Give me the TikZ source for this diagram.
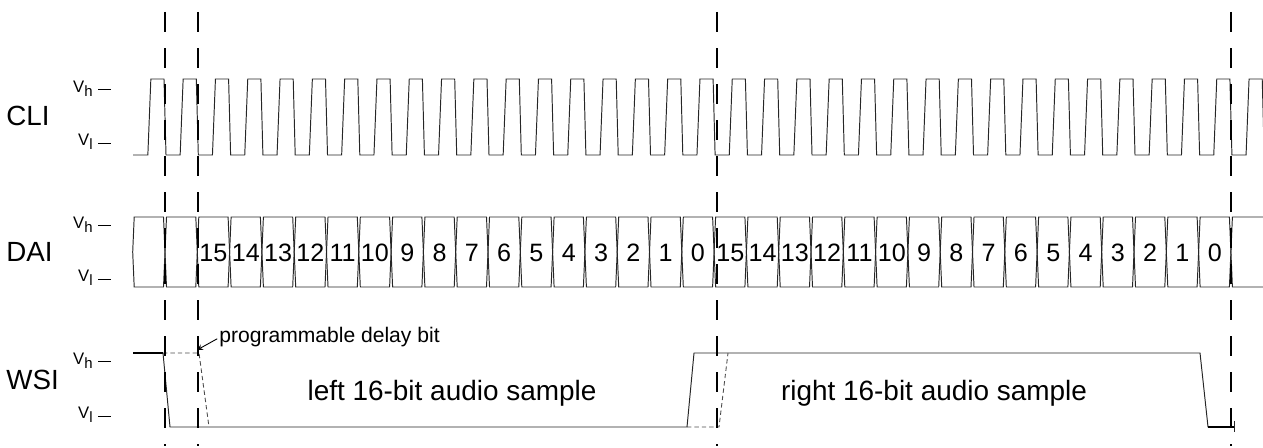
\documentclass[tikz,border=0pt]{standalone}
\usepackage{fontspec}
\setmainfont{Liberation Sans}
\usetikzlibrary{arrows,positioning}

\begin{document}
\begin{tikzpicture}[
    x=0.02cm, y=-0.02cm,
    signal/.style={draw=black!85, line width=0.55pt},
    strong_signal/.style={draw=black, line width=1.1pt},
    delay_line/.style={draw=black!70, line width=0.5pt, dash pattern=on 2.5pt off 1.7pt},
    marker_line/.style={draw=black, line width=1.1pt, dash pattern=on 11.4pt off 9.1pt},
    sig_label/.style={anchor=west, inner sep=0pt, font=\fontsize{15.8}{18}\selectfont},
    level_label/.style={anchor=base east, inner sep=0pt, font=\fontsize{9.5}{11}\selectfont},
    level_tick/.style={draw=black, line width=0.55pt},
    bit_num/.style={inner sep=0pt, font=\fontsize{14.3}{16}\selectfont},
    sample_text/.style={inner sep=0pt, font=\fontsize{15.9}{18}\selectfont},
    note/.style={anchor=west, inner sep=0pt, font=\fontsize{12}{14}\selectfont},
    arrow/.style={line width=0.5pt, ->, >=stealth}
]
\useasboundingbox (0,0) rectangle (1263,448);
\def\T{32.3}

% Signal names
\node[sig_label] (cli) at (6,116) {CLI};
\node[sig_label] (dai) at (6,252) {DAI};
\node[sig_label] (wsi) at (6,380) {WSI};

% Voltage levels
\foreach \name/\yh/\yl in {cli/89/143, dai/225/279, wsi/361/416} {
  \node[level_label] (\name_vh) at (93,\yh+4) {V\raisebox{-2pt}{\fontsize{8.5}{10}\selectfont h}};
  \node[level_label] (\name_vl) at (93,\yl+3) {V\raisebox{-2pt}{\fontsize{8.5}{10}\selectfont l}};
  \draw[level_tick] (98,\yh) -- (111,\yh);
  \draw[level_tick] (98,\yl) -- (111,\yl);
}

% CLI clock
\draw[signal] (133,155) foreach \k in {-1,...,33} {
  -- ({165+\k*\T+\T/2-1},155) -- ({165+\k*\T+\T/2+2},79)
  -- ({165+(\k+1)*\T-1},79) -- ({165+(\k+1)*\T+1},155) };

% DAI data cells
\foreach \k in {-1,...,32} {
  \draw[signal] ({165+\k*\T+1.5},217) -- ({165+(\k+1)*\T-1.5},217)
    -- ({165+(\k+1)*\T},252) -- ({165+(\k+1)*\T-1.5},287)
    -- ({165+\k*\T+1.5},287) -- ({165+\k*\T},252) -- cycle;
}
\draw[signal] (1263,217) -- ({165+33*\T+1.5},217) -- ({165+33*\T},252)
  -- ({165+33*\T+1.5},287) -- (1263,287);
\foreach \k in {1,...,32} {
  \pgfmathtruncatemacro\bitval{15-mod(\k-1,16)}
  \node[bit_num] (bit\k) at ({165+(\k+0.5)*\T},253) {\bitval};
}

% WSI word select
\draw[strong_signal] (133,353) -- (163,353);
\draw[signal] (163,353) -- (170,427) -- (687,427) -- (694,353)
  -- (1200,353) -- (1208,427) -- (1212,427);
\draw[strong_signal] (1208,427) -- (1235,427);
\draw[signal] (1234,421) -- (1234,432);
\draw[delay_line] (163,353) -- (199,353) -- (209,427);
\draw[delay_line] (687,427) -- (719,427) -- (728,353);

% Frame markers
\foreach \xm in {165,198,717,1231}
  \draw[marker_line] (\xm,12) -- (\xm,446);

% Annotations
\node[note] (delaynote) at (219,337) {programmable delay bit};
\coordinate (delaypt) at (197,350);
\draw[arrow] ([xshift=-1pt,yshift=-1pt]delaynote.west) -- (delaypt);
\node[sample_text] (leftsample) at (452,393) {left 16-bit audio sample};
\node[sample_text] (rightsample) at (934,393) {right 16-bit audio sample};

\end{tikzpicture}
\end{document}
